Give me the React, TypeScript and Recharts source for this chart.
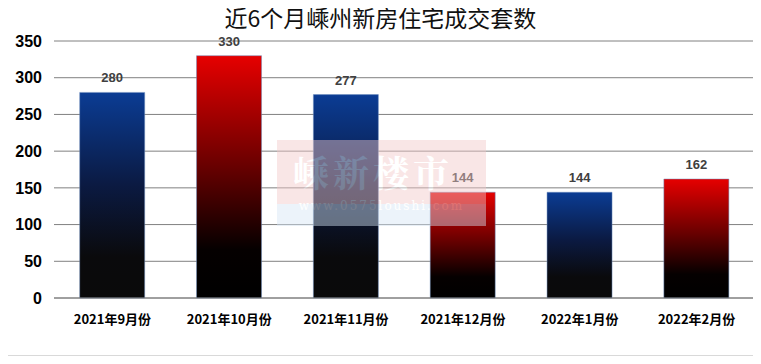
import { BarChart, Bar, XAxis, YAxis, CartesianGrid, Cell, LabelList } from 'recharts';

const months = ['2021年9月份', '2021年10月份', '2021年11月份', '2021年12月份', '2022年1月份', '2022年2月份'];
const sales = [280, 330, 277, 144, 144, 162];
const yTicks = [0, 50, 100, 150, 200, 250, 300, 350];

const data = months.map((month, i) => ({ month, sales: sales[i] }));

const numFont = '"Liberation Sans", "Noto Sans CJK SC", sans-serif';
const cjkFont = '"Noto Sans CJK SC", sans-serif';

export default function App() {
  return (
    <div style={{ position: 'relative', width: 761, height: 364, margin: '-8px 0 0 -8px', background: '#fff' }}>
      <div
        style={{
          position: 'absolute', left: 5, top: 2, width: 750, height: 354,
          border: '1px solid #d9d9d9', boxSizing: 'border-box',
        }}
      />
      <div
        style={{
          position: 'absolute', left: 0, top: 1, width: 761, textAlign: 'center',
          fontFamily: cjkFont, fontSize: 23, lineHeight: '32px', color: '#111',
        }}
      >
        近6个月嵊州新房住宅成交套数
      </div>
      <BarChart
        width={761}
        height={364}
        data={data}
        margin={{ top: 41, right: 6, left: 0, bottom: 0 }}
        barCategoryGap="22%"
        style={{ position: 'absolute', left: 0, top: 0 }}
      >
        <defs>
          <linearGradient id="gBlue" x1="0" y1="0" x2="0" y2="1">
            <stop offset="0%" stopColor="#0b3c94" />
            <stop offset="45%" stopColor="#0b1a42" />
            <stop offset="80%" stopColor="#0a0a0c" />
            <stop offset="100%" stopColor="#0a0a0a" />
          </linearGradient>
          <linearGradient id="gRed" x1="0" y1="0" x2="0" y2="1">
            <stop offset="0%" stopColor="#e60000" />
            <stop offset="45%" stopColor="#6a0000" />
            <stop offset="80%" stopColor="#050000" />
            <stop offset="100%" stopColor="#000" />
          </linearGradient>
        </defs>
        <CartesianGrid vertical={false} stroke="#808080" />
        <XAxis
          dataKey="month"
          height={66}
          tickLine={false}
          axisLine={{ stroke: '#808080' }}
          interval={0}
          tick={{ fontSize: 13, fontWeight: 'bold', fill: '#000', fontFamily: cjkFont }}
          dy={9}
        />
        <YAxis
          width={54}
          domain={[0, 350]}
          ticks={yTicks}
          tickLine={false}
          axisLine={false}
          tickMargin={6}
          tick={{ fontSize: 16, fontWeight: 'bold', fill: '#000', fontFamily: numFont }}
        />
        <Bar dataKey="sales" isAnimationActive={false} stroke="#6f8fbf" strokeWidth={0.5}>
          {data.map((d, i) => (
            <Cell key={d.month} fill={i % 2 === 0 ? 'url(#gBlue)' : 'url(#gRed)'} />
          ))}
          <LabelList
            dataKey="sales"
            position="top"
            offset={10}
            style={{ fontSize: 13, fontWeight: 'bold', fill: '#404040', fontFamily: numFont }}
          />
        </Bar>
      </BarChart>
      <div
        style={{
          position: 'absolute', left: 277, top: 140, width: 209, height: 86,
          background: 'linear-gradient(#f3c9c9 0%, #f3c9c9 75%, #d6e6f5 75%, #d6e6f5 100%)',
          opacity: 0.45, pointerEvents: 'none',
        }}
      >
        <div style={{ textAlign: 'left', paddingLeft: 16, fontFamily: '"Noto Serif CJK SC", serif', fontSize: 36, fontWeight: 'bold', color: '#fff', letterSpacing: 4, marginTop: 6 }}>
          嵊新楼市
        </div>
        <div style={{ textAlign: 'center', fontFamily: '"DejaVu Serif", serif', fontSize: 12, color: '#fff', letterSpacing: 2, marginTop: 2 }}>
          www.0575loushi.com
        </div>
      </div>
    </div>
  );
}
